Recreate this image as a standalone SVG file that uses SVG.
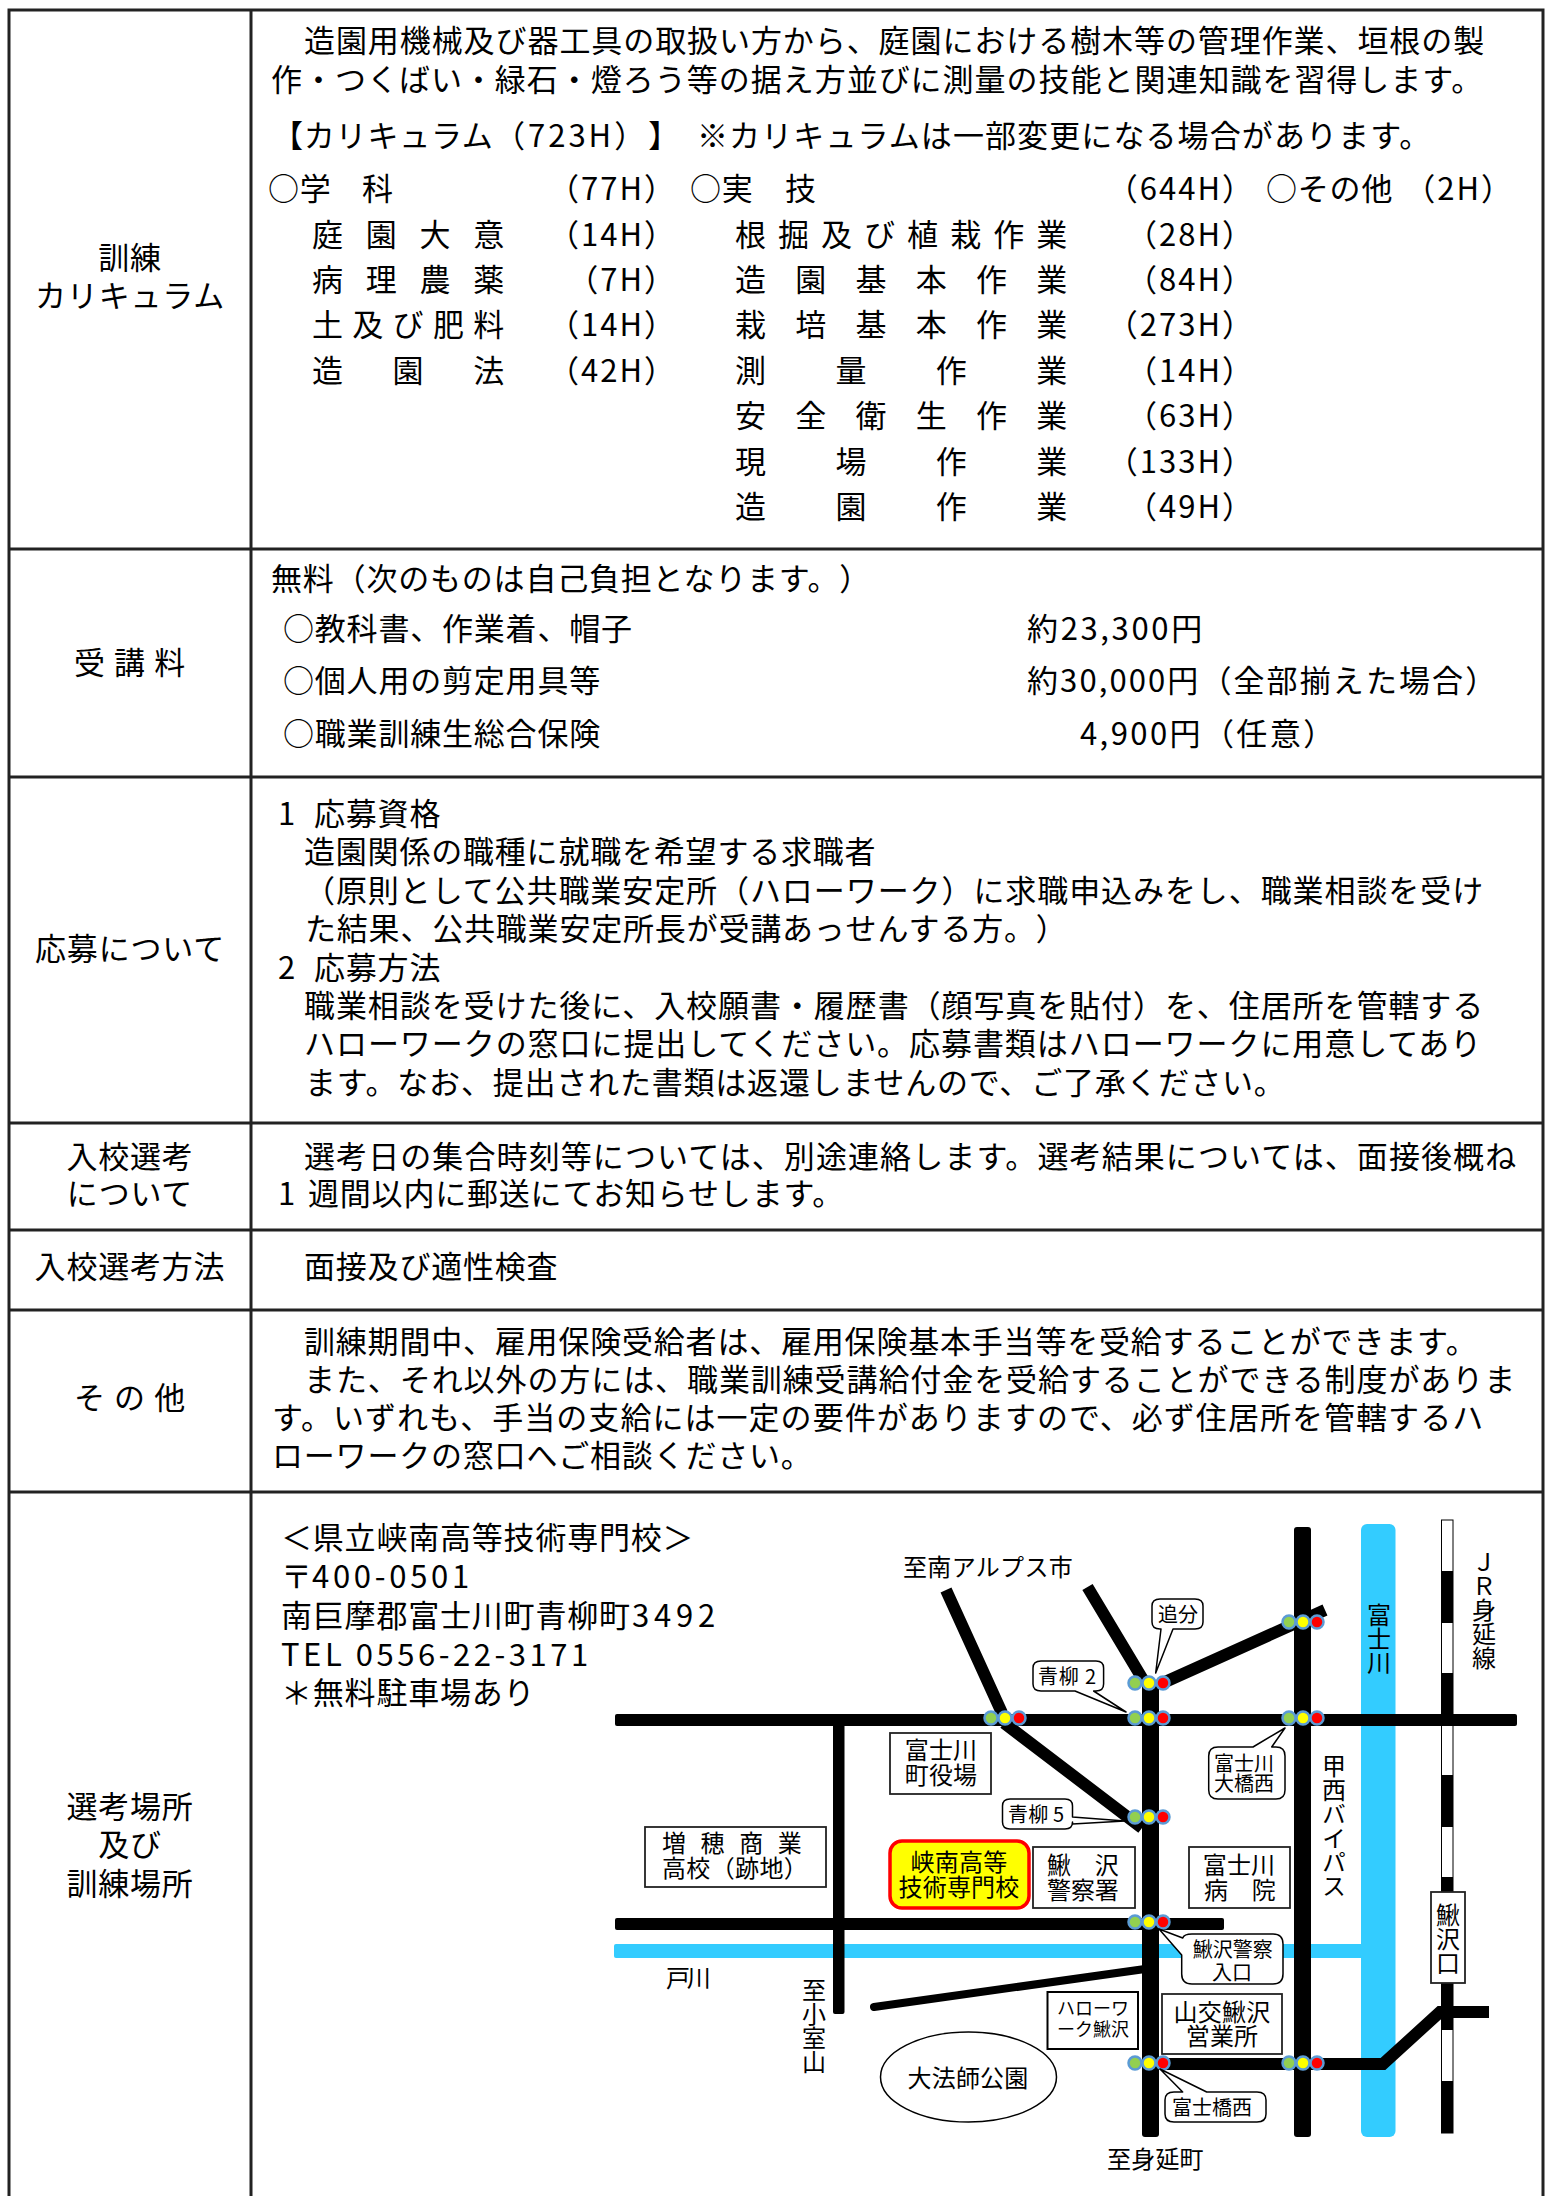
<svg xmlns="http://www.w3.org/2000/svg" width="1555" height="2196" viewBox="0 0 1555 2196">
<style>
text{font-family:"Noto Sans CJK JP","Noto Sans",sans-serif;fill:#000;dominant-baseline:central;text-spacing-trim:space-all}
.b{font-size:31px;letter-spacing:.8px;transform:translateY(-3px)}
.p{letter-spacing:2px}
.m{text-anchor:middle}
.e{text-anchor:end}
.s{font-size:24px;letter-spacing:.2px;transform:translateY(-2px)}
.n{font-size:20px;transform:translateY(-2px)}
.v{font-size:24px;writing-mode:vertical-rl;letter-spacing:0}
.g{stroke:#222;stroke-width:3;fill:none}
.bld{fill:#fff;stroke:#222;stroke-width:1.8}
.cal{fill:#fff;stroke:#000;stroke-width:1.5;stroke-linejoin:round}
.rd{stroke:#000;fill:none;stroke-width:12;stroke-linecap:butt}
.rb{fill:#000}
.c1{fill:#92D050}.c2{fill:#FFFF00}.c3{fill:#FF0000}
.lt circle{stroke:#5B9BD5;stroke-width:2.5}
</style>
<defs>
<g id="light" class="lt"><circle cx="-14" r="6.5" class="c1"/><circle cx="14" r="6.5" class="c3"/><circle r="6.5" class="c2"/></g>
</defs>
<rect width="1555" height="2196" fill="#fff"/>
<g id="table" class="g">
<path d="M9 2196V10H1543V2196M251 10V2196M9 549H1543M9 777H1543M9 1123H1543M9 1230H1543M9 1310H1543M9 1492H1543"/>
</g>
<g id="row-curriculum">
<text class="b m" x="130" y="258">訓練</text>
<text class="b m" x="130" y="296">カリキュラム</text>
<text class="b" x="304" y="41" textLength="1181">造園用機械及び器工具の取扱い方から、庭園における樹木等の管理作業、垣根の製</text>
<text class="b" x="271" y="80" textLength="1212">作・つくばい・緑石・燈ろう等の据え方並びに測量の技能と関連知識を習得します。</text>
<text class="b" x="272" y="136">【カリキュラム<tspan x="494" textLength="186">（723H）】</tspan></text>
<text class="b" x="697" y="136" textLength="734">※カリキュラムは一部変更になる場合があります。</text>
<text class="b" x="268" y="189">○学<tspan x="362">科</tspan></text>
<text class="b e p" x="677" y="189">（77H）</text>
<text class="b" x="312" y="235" textLength="193">庭 園 大 意</text>
<text class="b e p" x="677" y="235">（14H）</text>
<text class="b" x="312" y="280" textLength="193">病 理 農 薬</text>
<text class="b e p" x="677" y="280">（7H）</text>
<text class="b" x="312" y="325" textLength="193">土 及 び 肥 料</text>
<text class="b e p" x="677" y="325">（14H）</text>
<text class="b" x="312" y="371" textLength="193">造 園 法</text>
<text class="b e p" x="677" y="371">（42H）</text>
<text class="b" x="690" y="189">○実<tspan x="785">技</tspan></text>
<text class="b e p" x="1255" y="189">（644H）</text>
<text class="b" x="735" y="235" textLength="333">根 掘 及 び 植 栽 作 業</text>
<text class="b e p" x="1255" y="235">（28H）</text>
<text class="b" x="735" y="280" textLength="333">造 園 基 本 作 業</text>
<text class="b e p" x="1255" y="280">（84H）</text>
<text class="b" x="735" y="325" textLength="333">栽 培 基 本 作 業</text>
<text class="b e p" x="1255" y="325">（273H）</text>
<text class="b" x="735" y="371" textLength="333">測 量 作 業</text>
<text class="b e p" x="1255" y="371">（14H）</text>
<text class="b" x="735" y="416" textLength="333">安 全 衛 生 作 業</text>
<text class="b e p" x="1255" y="416">（63H）</text>
<text class="b" x="735" y="462" textLength="333">現 場 作 業</text>
<text class="b e p" x="1255" y="462">（133H）</text>
<text class="b" x="735" y="507" textLength="333">造 園 作 業</text>
<text class="b e p" x="1255" y="507">（49H）</text>
<text class="b" x="1266" y="189">○その他</text>
<text class="b e p" x="1514" y="189">（2H）</text>
</g>
<g id="row-fee">
<text class="b" x="74" y="663" textLength="112">受 講 料</text>
<text class="b" x="271" y="579">無料（次のものは自己負担となります。）</text>
<text class="b" x="283" y="629">○教科書、作業着、帽子</text>
<text class="b" x="1027" y="629" textLength="176">約23,300円</text>
<text class="b" x="283" y="681">○個人用の剪定用具等</text>
<text class="b" x="1027" y="681" textLength="470">約30,000円（全部揃えた場合）</text>
<text class="b" x="283" y="734">○職業訓練生総合保険</text>
<text class="b" x="1080" y="734" textLength="255">4,900円（任意）</text>
</g>
<g id="row-apply">
<text class="b m" x="130" y="949">応募について</text>
<text class="b" x="278" y="814">1<tspan x="314">応募資格</tspan></text>
<text class="b" x="304" y="852">造園関係の職種に就職を希望する求職者</text>
<text class="b" x="304" y="891" textLength="1180">（原則として公共職業安定所（ハローワーク）に求職申込みをし、職業相談を受け</text>
<text class="b" x="305" y="929">た結果、公共職業安定所長が受講あっせんする方。）</text>
<text class="b" x="278" y="968">2<tspan x="314">応募方法</tspan></text>
<text class="b" x="304" y="1006" textLength="1180">職業相談を受けた後に、入校願書・履歴書（顔写真を貼付）を、住居所を管轄する</text>
<text class="b" x="304" y="1044" textLength="1178">ハローワークの窓口に提出してください。応募書類はハローワークに用意してあり</text>
<text class="b" x="305" y="1083">ます。なお、提出された書類は返還しませんので、ご了承ください。</text>
</g>
<g id="row-select">
<text class="b m" x="130" y="1157">入校選考</text>
<text class="b m" x="130" y="1194">について</text>
<text class="b" x="304" y="1157" textLength="1213">選考日の集合時刻等については、別途連絡します。選考結果については、面接後概ね</text>
<text class="b" x="278" y="1194">1<tspan x="308">週間以内に郵送にてお知らせします。</tspan></text>
</g>
<g id="row-method">
<text class="b m" x="130" y="1267">入校選考方法</text>
<text class="b" x="304" y="1267">面接及び適性検査</text>
</g>
<g id="row-other">
<text class="b" x="74" y="1398" textLength="112">そ の 他</text>
<text class="b" x="304" y="1342">訓練期間中、雇用保険受給者は、雇用保険基本手当等を受給することができます。</text>
<text class="b" x="304" y="1380" textLength="1212">また、それ以外の方には、職業訓練受講給付金を受給することができる制度がありま</text>
<text class="b" x="272" y="1418" textLength="1212">す。いずれも、手当の支給には一定の要件がありますので、必ず住居所を管轄するハ</text>
<text class="b" x="272" y="1456">ローワークの窓口へご相談ください。</text>
</g>
<g id="row-place">
<text class="b m" x="130" y="1807">選考場所</text>
<text class="b m" x="130" y="1845">及び</text>
<text class="b m" x="130" y="1884">訓練場所</text>
<text class="b" x="281" y="1538">＜県立峡南高等技術専門校＞</text>
<text class="b" x="281" y="1577">〒<tspan x="312" textLength="158">400-0501</tspan></text>
<text class="b" x="281" y="1616">南巨摩郡富士川町青柳町<tspan x="632" textLength="84">3492</tspan></text>
<text class="b" x="281" y="1655" textLength="308">TEL 0556-22-3171</text>
<text class="b" x="281" y="1693">＊無料駐車場あり</text>
</g>
<g id="rivers" fill="#33CCFF">
<rect x="614" y="1944" width="760" height="14" rx="2"/>
<rect x="1361" y="1524" width="34.500" height="613" rx="6"/>
</g>
<g id="railway">
<rect x="1441.500" y="1520" width="11.500" height="613" fill="#fff" stroke="#000" stroke-width="1"/>
<path d="M1447 1571V1623M1447 1673V1725M1447 1775V1827M1447 1877V1893M1447 1983V2030M1447 2081V2133" stroke="#000" stroke-width="12" fill="none"/>
</g>
<g id="connectors">
<rect class="rb" x="615" y="1714" width="902" height="12" rx="2"/>
<rect class="rb" x="615" y="1918" width="609" height="12" rx="2"/>
<rect class="rb" x="833" y="1720" width="11.500" height="294" rx="2"/>
<path class="rd" d="M946 1590L1002 1713M1004 1723L1142 1828M1087.500 1587L1145 1683M1165 1682L1325 1610"/>
<path class="rd" style="stroke-width:8;stroke-linecap:round" d="M874 2007L1145 1969"/>
<rect class="rb" x="1142" y="1684" width="17" height="453" rx="3"/>
<rect class="rb" x="1294" y="1527" width="17" height="610" rx="3"/>
<path class="rd" d="M1150 2064H1383L1440 2012H1489"/>
</g>
<g id="node-town-office">
<rect class="bld" x="890" y="1733" width="101" height="61"/>
<text class="s m" x="941" y="1750">富士川</text>
<text class="s m" x="941" y="1775">町役場</text>
</g>
<g id="node-masuho">
<rect class="bld" x="645" y="1827" width="181" height="60"/>
<text class="s" x="662" y="1843" textLength="140">増 穂 商 業</text>
<text class="s" x="662" y="1868" textLength="146">高校（跡地）</text>
</g>
<g id="node-school">
<rect x="890" y="1841" width="139" height="67" rx="12" fill="#FFFF00" stroke="#FF0000" stroke-width="3.500"/>
<text class="s m" x="959" y="1862">峡南高等</text>
<text class="s m" x="959" y="1887">技術専門校</text>
</g>
<g id="node-police">
<rect class="bld" x="1033" y="1847" width="102" height="61"/>
<text class="s" x="1047" y="1865" textLength="72">鰍 沢</text>
<text class="s" x="1047" y="1890" textLength="72">警察署</text>
</g>
<g id="node-hospital">
<rect class="bld" x="1189" y="1847" width="101" height="61"/>
<text class="s m" x="1239" y="1865">富士川</text>
<text class="s" x="1204" y="1890" textLength="72">病 院</text>
</g>
<g id="node-hellowork">
<rect x="1047.500" y="1992" width="90.500" height="57" fill="#fff" stroke="#000" stroke-width="2"/>
<text x="1057" y="2007" font-size="18" textLength="72">ハローワ</text>
<text x="1057" y="2028" font-size="18" textLength="72">ーク鰍沢</text>
</g>
<g id="node-yamako">
<rect class="bld" x="1162" y="1994" width="120" height="60"/>
<text class="s m" x="1222" y="2012">山交鰍沢</text>
<text class="s m" x="1222" y="2036">営業所</text>
</g>
<g id="node-park">
<ellipse cx="968.500" cy="2077" rx="88" ry="45" fill="#fff" stroke="#000" stroke-width="1.500"/>
<text class="s m" x="968" y="2078">大法師公園</text>
</g>
<g id="node-station">
<rect class="bld" x="1431" y="1892" width="34" height="91"/>
<text class="v" x="1448" y="1903">鰍沢口</text>
</g>
<g id="labels">
<text class="s" x="903" y="1567" textLength="170">至南アルプス市</text>
<text class="s" x="666" y="1978" textLength="45">戸川</text>
<text class="v" x="814" y="1978">至小室山</text>
<text class="s" x="1107" y="2159">至身延町</text>
<text class="v" x="1334" y="1754">甲西バイパス</text>
<text class="v" x="1379" y="1603">富士川</text>
<text class="v" x="1484" y="1550">ＪＲ身延線</text>
</g>
<g id="signals">
<use href="#light" x="1149" y="1683"/>
<use href="#light" x="1149" y="1718"/>
<use href="#light" x="1005" y="1718"/>
<use href="#light" x="1149" y="1817"/>
<use href="#light" x="1303" y="1622"/>
<use href="#light" x="1303" y="1718"/>
<use href="#light" x="1149" y="1922"/>
<use href="#light" x="1149" y="2063"/>
<use href="#light" x="1303" y="2063"/>
</g>
<g id="callout-oiwake">
<path class="cal" d="M1160 1599H1195Q1203 1599 1203 1606V1622Q1203 1629 1195 1629H1173L1155.700 1673L1161 1629H1160Q1152 1629 1152 1622V1606Q1152 1599 1160 1599Z"/>
<text class="n m" x="1178" y="1615">追分</text>
</g>
<g id="callout-aoyagi2">
<path class="cal" d="M1041 1661H1096Q1103.600 1661 1103.600 1668V1684Q1103.600 1691 1096 1691H1093.600L1126 1712L1075 1691H1041Q1033 1691 1033 1684V1668Q1033 1661 1041 1661Z"/>
<text class="n" x="1038" y="1677" textLength="58">青柳 2</text>
</g>
<g id="callout-aoyagi5">
<path class="cal" d="M1010 1799H1065Q1072.500 1799 1072.500 1806V1817L1125 1821L1072.500 1824V1822Q1072.500 1829 1065 1829H1010Q1002.500 1829 1002.500 1822V1806Q1002.500 1799 1010 1799Z"/>
<text class="n" x="1008" y="1815" textLength="56">青柳 5</text>
</g>
<g id="callout-ohashi">
<path class="cal" d="M1218 1747H1253L1285 1728L1271.700 1747H1276Q1285 1747 1285 1756V1790Q1285 1799 1276 1799H1218Q1208.700 1799 1208.700 1790V1756Q1208.700 1747 1218 1747Z"/>
<text class="n m" x="1244" y="1764">富士川</text>
<text class="n m" x="1244" y="1784">大橋西</text>
</g>
<g id="callout-police">
<path class="cal" d="M1192 1934H1273Q1283 1934 1283 1944V1974Q1283 1984 1273 1984H1192Q1181.700 1984 1181.700 1974V1955L1159 1929L1182.700 1938Q1184 1934 1192 1934Z"/>
<text class="n m" x="1232.700" y="1950" font-size="21">鰍沢警察</text>
<text class="n m" x="1232" y="1973">入口</text>
</g>
<g id="callout-fujibashi">
<path class="cal" d="M1174 2092H1182.700L1160 2069L1206.700 2092H1257Q1266 2092 1266 2100V2114Q1266 2122 1257 2122H1174Q1165 2122 1165 2114V2100Q1165 2092 1174 2092Z"/>
<text class="n m" x="1212" y="2108">富士橋西</text>
</g>
</svg>
